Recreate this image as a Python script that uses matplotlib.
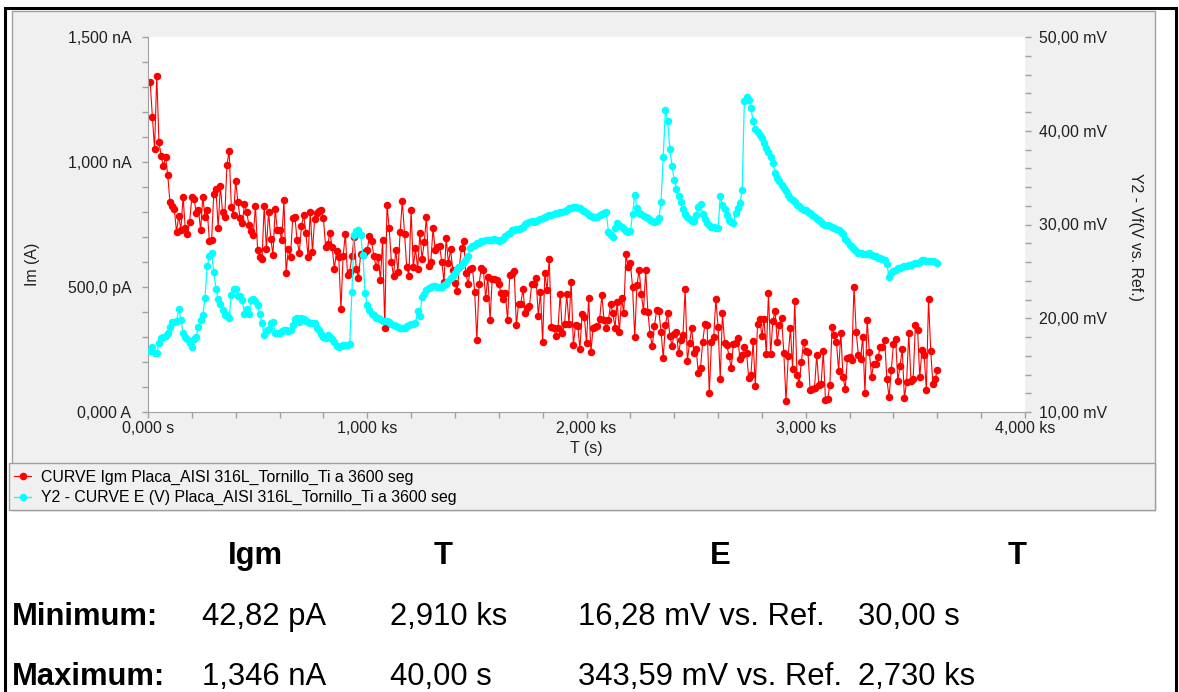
import matplotlib.pyplot as plt
import numpy as np
from matplotlib.patches import Rectangle
from matplotlib.ticker import MultipleLocator

plt.rcParams['font.family'] = ['Liberation Sans', 'DejaVu Sans']

# tiempo (s): un punto cada 10 s, de 10 s a 3600 s
t_s = np.arange(10, 3610, 10)

# Igm (nA)
igm_nA = [
    1320, 1180, 1052, 1346, 1080, 1025, 984, 1020, 948, 840,
    825, 812, 720, 784, 730, 861, 735, 712, 760, 860,
    852, 796, 808, 728, 861, 780, 808, 684, 688, 873,
    892, 736, 904, 800, 780, 988, 1044, 821, 788, 925,
    840, 776, 756, 832, 801, 749, 724, 708, 824, 649,
    620, 612, 825, 652, 801, 692, 629, 812, 728, 728,
    688, 848, 556, 652, 621, 776, 779, 688, 636, 744,
    788, 716, 621, 801, 640, 772, 796, 805, 808, 775,
    660, 673, 716, 659, 572, 645, 621, 412, 624, 712,
    548, 560, 624, 701, 572, 536, 632, 630, 640, 648,
    704, 684, 624, 581, 619, 528, 688, 337, 828, 736,
    600, 544, 648, 560, 720, 845, 711, 581, 545, 808,
    579, 655, 572, 715, 612, 681, 781, 584, 601, 735,
    648, 661, 665, 599, 521, 697, 595, 651, 568, 517,
    484, 581, 657, 685, 555, 512, 572, 575, 481, 288,
    511, 577, 568, 455, 541, 368, 532, 533, 528, 512,
    477, 452, 475, 367, 549, 551, 565, 347, 432, 432,
    491, 397, 415, 425, 512, 512, 537, 384, 481, 279,
    557, 488, 612, 340, 337, 305, 335, 473, 315, 353,
    472, 351, 520, 269, 348, 344, 251, 393, 381, 275,
    457, 241, 335, 341, 344, 372, 467, 368, 337, 368,
    431, 395, 337, 439, 321, 457, 395, 631, 579, 595,
    501, 299, 507, 568, 472, 405, 567, 399, 311, 264,
    344, 408, 404, 321, 217, 348, 395, 305, 265, 311,
    319, 235, 288, 309, 491, 203, 277, 335, 235, 251,
    157, 175, 280, 352, 347, 76, 280, 299, 451, 341,
    132, 395, 275, 268, 224, 176, 272, 275, 295, 211,
    228, 261, 237, 135, 148, 283, 104, 352, 372, 304,
    372, 232, 475, 232, 365, 403, 280, 347, 375, 237,
    43, 223, 335, 172, 443, 148, 112, 201, 280, 243,
    241, 87, 92, 97, 228, 108, 111, 243, 48, 52,
    109, 339, 308, 279, 165, 317, 139, 93, 215, 219,
    208, 501, 321, 228, 211, 301, 75, 368, 241, 141,
    192, 191, 221, 261, 261, 288, 132, 59, 168, 272,
    291, 125, 185, 251, 55, 121, 315, 124, 133, 347,
    328, 141, 248, 228, 88, 451, 243, 112, 131, 168,
]

# E (mV vs. Ref.)
e_mV = [
    16.5, 16.95, 16.28, 16.33, 17.4, 17.86, 18.03, 18.1, 18.4, 19.03,
    19.6, 19.57, 19.7, 20.95, 19.8, 18.46, 18.03, 17.75, 17.4, 16.97,
    17.75, 17.97, 19.1, 19.8, 20.4, 22.2, 25.57, 26.64, 27.0, 24.97,
    23.1, 22.1, 21.5, 20.9, 20.4, 20.35, 20.0, 22.5, 23.1, 23.1,
    22.4, 22.4, 21.9, 20.5, 21.0, 20.45, 22.0, 22.1, 21.8, 21.4,
    20.45, 19.46, 18.2, 18.6, 18.9, 19.5, 19.6, 18.46, 18.4, 18.46,
    18.64, 18.8, 18.7, 18.64, 18.7, 19.28, 19.9, 20.0, 19.6, 20.06,
    19.95, 19.75, 19.6, 19.46, 19.46, 19.46, 19.0, 18.7, 18.3, 18.03,
    17.85, 18.2, 18.03, 17.75, 17.5, 17.07, 16.97, 17.0, 17.15, 17.1,
    17.2, 17.3, 22.8, 28.9, 29.34, 29.41, 28.88, 26.75, 22.66, 21.4,
    20.9, 20.5, 20.3, 20.06, 20.0, 19.9, 19.74, 19.74, 19.74, 19.56,
    19.4, 19.3, 19.2, 19.03, 18.95, 18.93, 19.0, 19.15, 19.28, 19.35,
    19.4, 19.5, 20.8, 20.2, 22.3, 22.6, 23.0, 23.2, 23.37, 23.4,
    23.4, 23.35, 23.3, 23.3, 23.5, 23.65, 24.0, 24.26, 24.5, 24.8,
    25.3, 25.5, 25.68, 26.03, 26.3, 26.64, 27.46, 27.7, 27.8, 28.0,
    28.06, 28.2, 28.24, 28.35, 28.4, 28.4, 28.4, 28.45, 28.3, 28.24,
    28.3, 28.5, 28.77, 29.0, 29.1, 29.41, 29.45, 29.48, 29.48, 29.6,
    29.7, 30.02, 30.2, 30.3, 30.4, 30.3, 30.4, 30.48, 30.59, 30.7,
    30.76, 30.9, 31.0, 31.0, 31.1, 31.2, 31.26, 31.3, 31.37, 31.45,
    31.55, 31.73, 31.8, 31.84, 31.84, 31.8, 31.73, 31.6, 31.4, 31.2,
    31.0, 30.94, 30.85, 30.76, 30.83, 31.0, 31.1, 31.2, 31.3, 29.23,
    28.9, 28.7, 29.6, 30.13, 29.95, 29.77, 29.5, 29.34, 29.23, 29.3,
    31.1, 33.15, 31.73, 31.26, 31.1, 30.9, 30.83, 30.7, 30.48, 30.4,
    30.3, 30.4, 30.66, 32.43, 37.23, 42.2, 41.04, 38.05, 36.24, 34.75,
    33.8, 33.04, 32.43, 31.62, 31.12, 30.83, 30.59, 30.37, 30.37, 31.0,
    31.9, 32.15, 31.12, 30.55, 30.13, 29.9, 29.77, 29.7, 29.6, 29.6,
    33.04, 32.08, 31.62, 31.0, 30.48, 30.3, 30.13, 31.26, 31.8, 32.26,
    33.68, 43.2, 43.59, 43.28, 42.4, 41.0, 40.2, 39.85, 39.6, 39.25,
    38.7, 38.2, 37.7, 37.2, 36.6, 35.5, 35.0, 34.6, 34.25, 33.9,
    33.6, 33.2, 32.85, 32.6, 32.35, 32.1, 31.95, 31.8, 31.6, 31.5,
    31.35, 31.2, 31.0, 30.8, 30.6, 30.45, 30.3, 30.1, 30.0, 29.95,
    29.85, 29.7, 29.62, 29.52, 29.4, 29.2, 28.95, 28.5, 28.2, 27.85,
    27.6, 27.38, 27.2, 27.0, 26.95, 26.88, 26.85, 26.9, 26.92, 26.8,
    26.67, 26.6, 26.45, 26.38, 26.3, 26.25, 25.8, 24.37, 24.8, 25.0,
    25.2, 25.33, 25.4, 25.5, 25.55, 25.6, 25.65, 25.72, 25.78, 25.85,
    25.93, 26.05, 26.2, 26.18, 26.1, 26.12, 26.15, 26.1, 26.0, 25.86,
]

x_ticks = [0, 1000, 2000, 3000, 4000]
x_labels = ['0,000 s', '1,000 ks', '2,000 ks', '3,000 ks', '4,000 ks']
y1_ticks = [0, 500, 1000, 1500]
y1_labels = ['0,000 A', '500,0 pA', '1,000 nA', '1,500 nA']
y2_ticks = [10, 20, 30, 40, 50]
y2_labels = ['10,00 mV', '20,00 mV', '30,00 mV', '40,00 mV', '50,00 mV']

leg_labels = ['CURVE Igm Placa_AISI 316L_Tornillo_Ti a 3600 seg',
              'Y2 - CURVE E (V) Placa_AISI 316L_Tornillo_Ti a 3600 seg']

tab_head = ['Igm', 'T', 'E', 'T']
tab_rows = ['Minimum:', 'Maximum:']
tab_min = ['42,82 pA', '2,910 ks', '16,28 mV vs. Ref.', '30,00 s']
tab_max = ['1,346 nA', '40,00 s', '343,59 mV vs. Ref.', '2,730 ks']

W, H = 1179, 692
def fx(x):
    return x / W
def fy(y):
    return 1 - y / H

fig = plt.figure(figsize=(W / 100, H / 100), dpi=100)
fig.patch.set_facecolor('white')

# fondo gris del grafico y caja de leyenda
fig.add_artist(Rectangle((fx(12), fy(510)), (1155 - 12) / W, (510 - 11) / H, transform=fig.transFigure,
                         facecolor='#f0f0f0', edgecolor='#a0a0a0', lw=1, zorder=0))
fig.add_artist(Rectangle((fx(9), fy(510)), (1155 - 9) / W, (510 - 463) / H, transform=fig.transFigure,
                         facecolor='#f0f0f0', edgecolor='#a0a0a0', lw=1, zorder=0))
# marco negro exterior
fig.add_artist(Rectangle((fx(5), fy(700)), (1176 - 5) / W, (700 - 8) / H, transform=fig.transFigure,
                         facecolor='none', edgecolor='black', lw=2.2, zorder=5))

ax = fig.add_axes([fx(148), fy(412), 877 / W, 375 / H])
ax.set_facecolor('white')
l1, = ax.plot(t_s, igm_nA, color='red', lw=0.8, marker='o', ms=4.4, mec='red', mfc='red')
ax.set_xlim(0, 4000)
ax.set_ylim(0, 1500)
ax.set_xticks(x_ticks, x_labels)
ax.set_yticks(y1_ticks, y1_labels)
ax.xaxis.set_minor_locator(MultipleLocator(200))
ax.yaxis.set_minor_locator(MultipleLocator(100))
ax.tick_params(which='both', direction='out', length=4, width=1, color='#a0a0a0')
ax.tick_params(axis='y', labelsize=11.4, pad=8, labelcolor='#202020')
ax.tick_params(axis='x', labelsize=11.4, pad=2.5, labelcolor='#202020')
for s in ['top', 'right']:
    ax.spines[s].set_visible(False)
for s in ['left', 'bottom']:
    ax.spines[s].set_color('#a0a0a0')

ax2 = ax.twinx()
l2, = ax2.plot(t_s, e_mV, color='#00ffff', lw=0.9, marker='o', ms=4.4, mec='#00ffff', mfc='#00ffff')
ax2.set_ylim(10, 50)
ax2.set_yticks(y2_ticks, y2_labels)
ax2.yaxis.set_minor_locator(MultipleLocator(2))
ax2.tick_params(which='both', direction='out', length=4, width=1, color='#a0a0a0')
ax2.tick_params(axis='y', labelsize=11.4, pad=6, labelcolor='#202020')
for s in ax2.spines.values():
    s.set_visible(False)

fig.text(fx(586), fy(449), 'T (s)', ha='center', va='center', fontsize=11.4, color='#202020')
fig.text(fx(33), fy(264), 'Im (A)', ha='center', va='center', rotation=90, fontsize=11.4, color='#202020')
fig.text(fx(1135), fy(237), 'Y2 - Vf(V vs. Ref.)', ha='center', va='center', rotation=270,
         fontsize=11.4, color='#202020')

fig.legend(handles=[l1, l2], labels=leg_labels, loc='upper left', bbox_to_anchor=(fx(14), fy(470)),
           frameon=False, fontsize=11.4, handlelength=1.1, handletextpad=0.6, labelspacing=0.32,
           borderpad=0, borderaxespad=0)

# tabla de minimos y maximos
fs = 22.3
for txt, x in zip(tab_head, [255, 443, 720, 1017]):
    fig.text(fx(x), fy(556), txt, ha='center', va='center', fontsize=fs, fontweight='bold')
for row, vals, y in [(tab_rows[0], tab_min, 617), (tab_rows[1], tab_max, 677)]:
    fig.text(fx(12), fy(y), row, ha='left', va='center', fontsize=fs, fontweight='bold')
    for txt, x in zip(vals, [202, 390, 578, 858]):
        fig.text(fx(x), fy(y), txt, ha='left', va='center', fontsize=fs)

fig.savefig('out.png', dpi=100)
